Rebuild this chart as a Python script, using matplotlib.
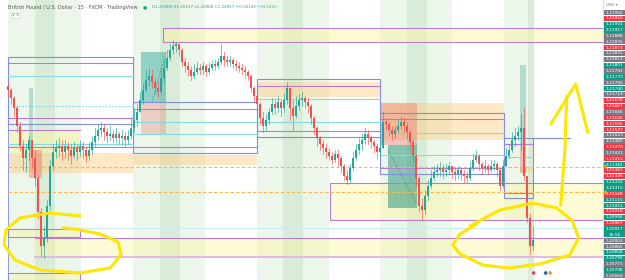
import matplotlib
matplotlib.use('Agg')
import matplotlib.pyplot as plt
from matplotlib.patches import Rectangle

# GBPUSD 15m candles (bar index 0..175)
closes = [1.2167, 1.2163, 1.2158, 1.2149, 1.2139, 1.2133, 1.2137, 1.2142, 1.2133, 1.2123,
          1.2106, 1.2089, 1.2093, 1.2109, 1.2129, 1.2136, 1.2138, 1.2139, 1.2136, 1.2139,
          1.2137, 1.2134, 1.2138, 1.2136, 1.2139, 1.2137, 1.2134, 1.2137, 1.2141, 1.2144,
          1.2147, 1.2148, 1.2146, 1.2144, 1.2145, 1.2143, 1.2145, 1.2143, 1.2144, 1.2142,
          1.2144, 1.2148, 1.2152, 1.2156, 1.2162, 1.2167, 1.2172, 1.2174, 1.2171, 1.2168,
          1.2166, 1.2173, 1.2178, 1.2183, 1.2187, 1.2189, 1.2190, 1.2187, 1.2181, 1.2179,
          1.2177, 1.2174, 1.2176, 1.2178, 1.2177, 1.2179, 1.2176, 1.2178, 1.2180, 1.2179,
          1.2181, 1.2184, 1.2182, 1.2181, 1.2182, 1.2180, 1.2179, 1.2178, 1.2177, 1.2176,
          1.2174, 1.2168, 1.2164, 1.2160, 1.2153, 1.2149, 1.2152, 1.2156, 1.2160, 1.2158,
          1.2161, 1.2158, 1.2162, 1.2168, 1.2158, 1.2154, 1.2159, 1.2162, 1.2163, 1.2161,
          1.2159, 1.2153, 1.2148, 1.2143, 1.2140, 1.2138, 1.2136, 1.2134, 1.2132, 1.2135,
          1.2133, 1.2129, 1.2124, 1.2122, 1.2128, 1.2133, 1.2137, 1.2140, 1.2142, 1.2145,
          1.2143, 1.2141, 1.2139, 1.2136, 1.2138, 1.2151, 1.2150, 1.2147, 1.2145, 1.2147,
          1.2149, 1.2151, 1.2149, 1.2146, 1.2141, 1.2134, 1.2123, 1.2109, 1.2107, 1.2114,
          1.2119, 1.2123, 1.2126, 1.2127, 1.2128, 1.2126, 1.2127, 1.2129, 1.2126, 1.2125,
          1.2127, 1.2125, 1.2124, 1.2123, 1.2128, 1.2132, 1.2134, 1.2130, 1.2128, 1.2129,
          1.2127, 1.2129, 1.2130, 1.2127, 1.2119, 1.2129, 1.2134, 1.2137, 1.2142, 1.2144,
          1.2146, 1.2148, 1.2124, 1.2103, 1.2089, 1.2092]
highs = [1.2171, 1.2168, 1.2164, 1.2159, 1.2151, 1.2142, 1.2140, 1.2144, 1.2142, 1.2137,
         1.2125, 1.2108, 1.2099, 1.2112, 1.2132, 1.2140, 1.2142, 1.2143, 1.2142, 1.2142,
         1.2141, 1.2140, 1.2141, 1.2140, 1.2142, 1.2141, 1.2139, 1.2141, 1.2144, 1.2148,
         1.2150, 1.2151, 1.2150, 1.2148, 1.2149, 1.2147, 1.2148, 1.2146, 1.2147, 1.2146,
         1.2147, 1.2153, 1.2157, 1.2160, 1.2166, 1.2170, 1.2177, 1.2178, 1.2177, 1.2173,
         1.2171, 1.2177, 1.2182, 1.2187, 1.2190, 1.2192, 1.2191, 1.2190, 1.2188, 1.2183,
         1.2181, 1.2179, 1.2180, 1.2181, 1.2180, 1.2181, 1.2180, 1.2181, 1.2182, 1.2182,
         1.2183, 1.2190, 1.2186, 1.2184, 1.2184, 1.2183, 1.2182, 1.2181, 1.2180, 1.2179,
         1.2177, 1.2175, 1.2169, 1.2165, 1.2161, 1.2156, 1.2155, 1.2158, 1.2163, 1.2162,
         1.2164, 1.2162, 1.2165, 1.2171, 1.2167, 1.2162, 1.2164, 1.2165, 1.2166, 1.2164,
         1.2163, 1.2160, 1.2154, 1.2149, 1.2144, 1.2142, 1.2140, 1.2138, 1.2136, 1.2137,
         1.2137, 1.2134, 1.2130, 1.2127, 1.2130, 1.2136, 1.2140, 1.2143, 1.2145, 1.2148,
         1.2147, 1.2144, 1.2142, 1.2140, 1.2142, 1.2156, 1.2153, 1.2151, 1.2149, 1.2149,
         1.2152, 1.2154, 1.2153, 1.2151, 1.2147, 1.2142, 1.2135, 1.2124, 1.2113, 1.2117,
         1.2122, 1.2127, 1.2129, 1.2130, 1.2131, 1.2130, 1.2130, 1.2131, 1.2129, 1.2128,
         1.2129, 1.2128, 1.2127, 1.2126, 1.2131, 1.2135, 1.2137, 1.2135, 1.2131, 1.2132,
         1.2130, 1.2132, 1.2132, 1.2131, 1.2128, 1.2132, 1.2138, 1.2140, 1.2146, 1.2148,
         1.2149, 1.2155, 1.2158, 1.2123, 1.2105, 1.2099]
lows = [1.2164, 1.2160, 1.2154, 1.2146, 1.2137, 1.2127, 1.2126, 1.2132, 1.2128, 1.2119,
        1.2103, 1.2084, 1.2083, 1.2091, 1.2107, 1.2127, 1.2133, 1.2134, 1.2132, 1.2133,
        1.2132, 1.2130, 1.2133, 1.2132, 1.2134, 1.2133, 1.2131, 1.2132, 1.2135, 1.2139,
        1.2142, 1.2144, 1.2142, 1.2141, 1.2142, 1.2141, 1.2141, 1.2140, 1.2140, 1.2139,
        1.2140, 1.2143, 1.2146, 1.2149, 1.2156, 1.2160, 1.2166, 1.2169, 1.2168, 1.2165,
        1.2163, 1.2165, 1.2171, 1.2177, 1.2182, 1.2185, 1.2186, 1.2184, 1.2179, 1.2176,
        1.2174, 1.2172, 1.2173, 1.2175, 1.2175, 1.2175, 1.2174, 1.2175, 1.2177, 1.2177,
        1.2178, 1.2180, 1.2179, 1.2179, 1.2179, 1.2178, 1.2177, 1.2176, 1.2175, 1.2173,
        1.2172, 1.2166, 1.2161, 1.2157, 1.2150, 1.2146, 1.2147, 1.2150, 1.2155, 1.2155,
        1.2156, 1.2154, 1.2156, 1.2160, 1.2152, 1.2147, 1.2153, 1.2157, 1.2159, 1.2158,
        1.2156, 1.2150, 1.2145, 1.2139, 1.2137, 1.2135, 1.2133, 1.2132, 1.2130, 1.2131,
        1.2129, 1.2126, 1.2122, 1.2120, 1.2121, 1.2127, 1.2132, 1.2135, 1.2137, 1.2140,
        1.2140, 1.2138, 1.2136, 1.2133, 1.2134, 1.2138, 1.2147, 1.2144, 1.2142, 1.2143,
        1.2146, 1.2148, 1.2146, 1.2143, 1.2138, 1.2131, 1.2119, 1.2106, 1.2102, 1.2105,
        1.2112, 1.2118, 1.2122, 1.2124, 1.2124, 1.2123, 1.2124, 1.2125, 1.2123, 1.2122,
        1.2123, 1.2122, 1.2121, 1.2121, 1.2122, 1.2127, 1.2131, 1.2127, 1.2125, 1.2126,
        1.2125, 1.2126, 1.2127, 1.2124, 1.2117, 1.2118, 1.2129, 1.2133, 1.2136, 1.2139,
        1.2142, 1.2137, 1.2122, 1.2101, 1.2085, 1.2087]
first_open = 1.2169

# price scale tags, top to bottom (g = grey, r = red, t = teal)
scale_labels = ['1.21992', '1.21950', '1.21931', '1.21917', '1.21888', '1.21876', '1.21873',
                '1.21835', '1.21813', '1.21801', '1.21792', '1.21770', '1.21756', '1.21740',
                '1.21714', '1.21678', '1.21667', '1.21666', '1.21640', '1.21592', '1.21537',
                '1.21523', '1.21480', '1.21470', '1.21421', '1.21415', '1.21382', '1.21362',
                '1.21345', '1.21331', '1.21315', '1.21168', '1.21115', '1.21051', '1.21018',
                '1.20990', '1.20967', '1.20917\n10:56', '1.20903', '1.20885', '1.20858',
                '1.20799', '1.20771', '1.20708', '1.20664']
scale_kinds = 'grttggrggtgtgtgrrgrrrggrgrtrrttrttrtrtggttgtg'

UP, DOWN = '#26a69a', '#ef5350'
BLUE, PURPLE, CYAN = '#7f8fdc', '#b77dd2', '#86dbe3'
PEN = '#ffe600'
R = 198.4

fig = plt.figure(figsize=(6.25, 2.8), dpi=100)
ax = fig.add_axes([0, 0, 603 / 625, 1])
ax.set_xlim(-8 / 3, R)
ax.set_ylim(1.2072, 1.2212)
ax.axis('off')

# session highlight bands
light = [(0, 9), (15.7, 24.3), (41.7, 50.7), (57.3, 65.7), (83, 91.7), (98.3, 107),
         (124, 133), (139.7, 148), (165.3, 173.3)]
medium = [(9, 15.7), (50.7, 57.3), (91.7, 98.3), (133, 139.7), (173.3, 175.5)]
for a, b in light:
    ax.axvspan(a, b, color='#ecf6eb', lw=0, zorder=0)
for a, b in medium:
    ax.axvspan(a, b, color='#d9ecd7', lw=0, zorder=0)


def box(x0, x1, p0, p1, fc='none', ec='none', alpha=1.0, lw=0.8, z=1):
    ax.add_patch(Rectangle((x0, p0), x1 - x0, p1 - p0, facecolor=fc, alpha=alpha,
                           lw=0, zorder=z))
    if ec != 'none':
        ax.add_patch(Rectangle((x0, p0), x1 - x0, p1 - p0, facecolor='none',
                               edgecolor=ec, lw=lw, zorder=z + 0.5))


def hline(x0, x1, p, color, ls='-', lw=0.8):
    ax.plot([x0, x1], [p, p], color=color, ls=ls, lw=lw, zorder=2)


# zones
box(51.7, R, 1.2191, 1.2198, fc='#fff59d', ec=PURPLE, alpha=0.45)
box(0, 24, 1.21355, 1.2147, fc='#fff59d', alpha=0.45)
hline(0, 24, 1.2147, PURPLE)
box(0, 41.7, 1.21255, 1.21355, fc='#ffcc80', alpha=0.45)
box(41.7, 83, 1.21295, 1.21345, fc='#ffcc80', alpha=0.45)
box(83, 124, 1.21635, 1.2171, fc='#ffcc80', alpha=0.45)
box(124, 165.3, 1.2142, 1.21605, fc='#ffcc80', alpha=0.45)
box(170.7, 175, 1.21255, 1.21285, fc='#ffcc80', alpha=0.45)
box(107.3, R, 1.2102, 1.21205, fc='#fff59d', ec=PURPLE, alpha=0.4)
box(9, R, 1.20835, 1.2093, fc='#fff59d', alpha=0.4)
hline(9, R, 1.2093, PURPLE)
hline(9, R, 1.20835, '#e2b8e0', lw=1.4)
box(0, 24, 1.20935, 1.20975, fc='#fff59d', ec=PURPLE, alpha=0.4)
box(0, 24, 1.2072, 1.20755, fc='#fff59d', ec=PURPLE, alpha=0.4)

# daily range boxes with their levels
box(0, 41.7, 1.2150, 1.21835, ec=BLUE)
ax.plot([0, 0], [1.2072, 1.2150], color=BLUE, lw=0.6, zorder=2)
hline(0, 41.7, 1.21805, PURPLE)
hline(0, 41.7, 1.2153, PURPLE)
hline(0, 41.7, 1.21385, PURPLE)
hline(0, 41.7, 1.2174, CYAN)
hline(0, 41.7, 1.2140, CYAN)
hline(2.3, 41.7, 1.2159, CYAN, ls=(0, (1.5, 1.5)))

box(41.7, 83, 1.21355, 1.2161, ec=BLUE)
hline(41.7, 83, 1.21575, PURPLE)
hline(41.7, 83, 1.21385, PURPLE)
hline(41.7, 83, 1.2151, CYAN)
hline(41.7, 83, 1.2145, CYAN)

box(83, 124, 1.21435, 1.21725, ec=BLUE)
hline(83, 124, 1.2169, PURPLE)
hline(83, 124, 1.21465, PURPLE)
hline(83, 124, 1.21625, CYAN)
hline(83, 124, 1.2151, CYAN)

box(124, 165.3, 1.2125, 1.21555, ec=BLUE)
hline(124, 165.3, 1.21525, PURPLE)
hline(124, 165.3, 1.2128, PURPLE)
hline(124, 165.3, 1.21455, CYAN)
hline(124, 165.3, 1.21345, CYAN)

box(165.3, 175, 1.2113, 1.2143, ec=BLUE)
hline(175, 187.3, 1.2143, BLUE)
hline(165.3, 175, 1.2140, PURPLE)
hline(165.3, 175, 1.21155, PURPLE)
hline(165.3, 175, 1.21335, CYAN)

# long levels
hline(0, R, 1.21285, '#ffb74d', ls=(0, (3, 2)))
hline(0, R, 1.2116, '#ffb74d', ls=(0, (3, 2)))
hline(18, R, 1.2098, '#c9eef0', lw=0.7)

# position tools
box(7, 8.3, 1.2137, 1.2168, fc=UP, alpha=0.3)
box(7, 11.3, 1.2123, 1.2137, fc=DOWN, alpha=0.35)
box(44.3, 52.7, 1.2161, 1.2186, fc=UP, alpha=0.45)
box(44.3, 52.7, 1.2145, 1.2161, fc=DOWN, alpha=0.25)
ax.plot([48, 52.7], [1.2161, 1.2186], color='#5d7f78', ls=':', lw=0.7, zorder=2)
box(124, 136.3, 1.21395, 1.21605, fc=DOWN, alpha=0.3)
box(126.7, 136.3, 1.2108, 1.21395, fc='#1e9378', alpha=0.5)
ax.plot([126.7, 136.3], [1.2137, 1.2110], color='#5d7f78', ls=':', lw=0.7, zorder=2)
box(170.7, 172.7, 1.2137, 1.21795, fc=UP, alpha=0.3)
box(170.7, 172.7, 1.21255, 1.2137, fc=DOWN, alpha=0.35)

# candles
opens = [first_open] + closes[:-1]
for i, (o, h, l, c) in enumerate(zip(opens, highs, lows, closes)):
    col = UP if c >= o else DOWN
    h = max(h, o, c)
    l = min(l, o, c)
    ax.plot([i, i], [l, h], color=col, lw=0.45, zorder=3)
    ax.bar(i, max(abs(c - o), 0.00002), bottom=min(o, c), width=0.62, color=col,
           lw=0, zorder=3.2)

# hand drawn marks
left_loop = [(24, 1.2104), (14, 1.21055), (4, 1.2103), (-0.7, 1.2097), (-1.3, 1.20895),
             (2.3, 1.2082), (10.7, 1.2077), (24, 1.20755), (34, 1.2078), (37.7, 1.20845),
             (36.7, 1.2091), (30.7, 1.2095), (22.3, 1.20975), (18.3, 1.2098)]
right_loop = [(154, 1.2099), (164, 1.2107), (175, 1.21105), (183, 1.2108), (188, 1.2102),
              (190.3, 1.2093), (187.3, 1.20845), (177.3, 1.2080), (167.3, 1.2078),
              (158.3, 1.20795), (150.7, 1.2085), (148.3, 1.20895), (150.7, 1.2095),
              (156.3, 1.2100)]
arrow_head = [(181, 1.2150), (189.3, 1.2170), (193.3, 1.2146)]
arrow_shaft = [(186.3, 1.2164), (185.7, 1.2137), (184.3, 1.21095)]
for pts in (left_loop, right_loop, arrow_head, arrow_shaft):
    ax.plot([p[0] for p in pts], [p[1] for p in pts], color=PEN, lw=2.2,
            solid_joinstyle='round', solid_capstyle='round', zorder=5)

ax.scatter([175.3, 179.3, 180.8], [1.20755] * 3, s=9,
           c=['#d24b5a', '#3b5fb0', '#e6a23c'], edgecolors='white', linewidths=0.3, zorder=6)

# header
fig.text(8 / 625, 1 - 7 / 280, 'British Pound / U.S. Dollar · 15 · FXCM · TradingView',
         fontsize=3.6, color='#555555', va='center')
fig.text(143 / 625, 1 - 7 / 280, '●', fontsize=3.5, color=UP, va='center')
fig.text(152 / 625, 1 - 7 / 280, 'O1.20968 H1.20917 L1.20968 C1.20917 −0.00149 (−0.12%)',
         fontsize=3.0, color=UP, va='center')
fig.text(12 / 625, 1 - 15.5 / 280, '∨ 3', fontsize=2.8, color='#666666', va='center',
         bbox=dict(boxstyle='square,pad=0.25', fc='white', ec='#cccccc', lw=0.4))

# price scale
pax = fig.add_axes([603 / 625, 0, 22 / 625, 1])
pax.set_xlim(0, 22)
pax.set_ylim(280, 0)
pax.axis('off')
pax.add_patch(Rectangle((0, 0), 22, 280, fc='white', lw=0))
pax.plot([0.3, 0.3], [0, 280], color='#d5d5d5', lw=0.6)
pax.text(3, 4.5, 'USD ▾', fontsize=2.8, color='#777777', va='center')
tag_colors = {'g': '#787b86', 'r': '#f23645', 't': '#0e9c86'}
step = 5.85
slot = 0
for txt, kind in zip(scale_labels, scale_kinds):
    n = txt.count('\n') + 1
    top = 9.6 + slot * step
    pax.add_patch(Rectangle((1, top + 0.3), 21, n * step - 0.6, fc=tag_colors[kind], lw=0))
    pax.text(11.5, top + n * step / 2, txt, fontsize=3.1, color='white', ha='center',
             va='center', linespacing=1.5)
    slot += n
for yy in (166, 192):
    pax.plot(1.2, yy, marker='<', color='#ff9800', ms=2.2)

fig.savefig('out.png', dpi=100)
